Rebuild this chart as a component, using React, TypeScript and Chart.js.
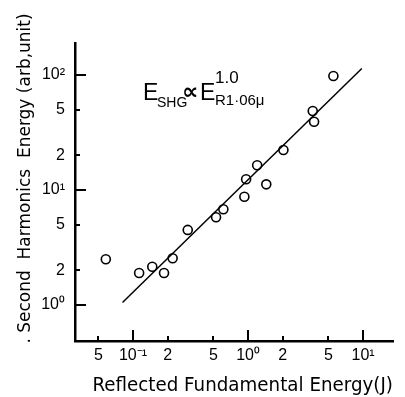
import React, { useEffect, useRef } from "react";
import { Chart, registerables } from "chart.js";

Chart.register(...registerables);

// Measured data (log-log)
const energyX = [0.058, 0.113, 0.147, 0.186, 0.221, 0.299, 0.527, 0.61, 0.929, 0.962, 1.2, 1.44, 2.03, 3.65, 3.75, 5.52];
const shgY = [2.5, 1.9, 2.15, 1.9, 2.55, 4.5, 5.8, 6.8, 8.75, 12.4, 16.4, 11.2, 22.3, 48.6, 39.3, 98];

// Fitted line E_SHG ∝ E^1.0
const fitX = [0.081, 9.75];
const fitY = [1.05, 114];

// Axis ticks
const xTickValues = [0.05, 0.1, 0.2, 0.5, 1, 2, 5, 10];
const xTickLabels = ["5", "10⁻¹", "2", "5", "10⁰", "2", "5", "10¹"];
const yTickValues = [1, 2, 5, 10, 20, 50, 100];
const yTickLabels = ["10⁰", "2", "5", "10¹", "2", "5", "10²"];

const xRange = [0.0313, 18.2];
const yRange = [0.486, 190];

const xTitle = "   Reflected Fundamental Energy(J)";
const yTitle = "     . Second  Harmonics  Energy (arb,unit)";

// Formula anchor in data coordinates
const formulaAnchor = [0.122, 60.6];

const isDecade = (v: number) => Math.abs(Math.log10(v) - Math.round(Math.log10(v))) < 1e-6;

const tickPlugin = {
  id: "innerTicks",
  afterDraw(chart: any) {
    const { ctx, chartArea, scales } = chart;
    const xs = scales.x;
    const ys = scales.y;
    ctx.save();
    ctx.strokeStyle = "#000";
    ctx.lineWidth = 2;
    ctx.beginPath();
    xTickValues.forEach((v) => {
      const px = Math.round(xs.getPixelForValue(v));
      const len = isDecade(v) ? 11 : 5;
      ctx.moveTo(px, chartArea.bottom);
      ctx.lineTo(px, chartArea.bottom - len);
    });
    yTickValues.forEach((v) => {
      const py = Math.round(ys.getPixelForValue(v));
      const len = isDecade(v) ? 11 : 5;
      ctx.moveTo(chartArea.left, py);
      ctx.lineTo(chartArea.left + len, py);
    });
    ctx.stroke();

    // Formula annotation
    const ax = xs.getPixelForValue(formulaAnchor[0]);
    const ay = ys.getPixelForValue(formulaAnchor[1]);
    ctx.fillStyle = "#000";
    ctx.textAlign = "left";
    ctx.textBaseline = "alphabetic";
    ctx.font = '23px "Liberation Sans", Arial, sans-serif';
    ctx.fillText("E", ax, ay);
    ctx.font = '14px "Liberation Sans", Arial, sans-serif';
    ctx.fillText("SHG", ax + 14, ay + 7);
    ctx.font = 'bold 23px "DejaVu Sans", sans-serif';
    ctx.fillText("∝", ax + 39, ay - 1);
    ctx.font = '23px "Liberation Sans", Arial, sans-serif';
    ctx.fillText("E", ax + 57, ay);
    ctx.font = '17px "Liberation Sans", Arial, sans-serif';
    ctx.fillText("1.0", ax + 72, ay - 17);
    ctx.font = '15px "Liberation Sans", Arial, sans-serif';
    ctx.fillText("R1·06μ", ax + 72, ay + 5);
    ctx.restore();
  },
};

export default function App() {
  const canvasRef = useRef<HTMLCanvasElement | null>(null);

  useEffect(() => {
    if (!canvasRef.current) return;
    const chart = new Chart(canvasRef.current, {
      type: "scatter",
      data: {
        datasets: [
          {
            label: "data",
            data: energyX.map((x, i) => ({ x, y: shgY[i] })),
            showLine: false,
            pointStyle: "circle",
            pointRadius: 4.5,
            pointBorderWidth: 1.6,
            pointBorderColor: "#000",
            pointBackgroundColor: "rgba(255,255,255,0)",
          },
          {
            label: "fit",
            data: fitX.map((x, i) => ({ x, y: fitY[i] })),
            showLine: true,
            borderColor: "#000",
            borderWidth: 1.5,
            pointRadius: 0,
          },
        ],
      },
      options: {
        responsive: false,
        animation: false,
        devicePixelRatio: 1,
        layout: { padding: { top: 43, right: 12, left: 0, bottom: 0 } },
        plugins: {
          legend: { display: false },
          tooltip: { enabled: false },
        },
        scales: {
          x: {
            type: "logarithmic",
            min: xRange[0],
            max: xRange[1],
            afterFit: (s: any) => {
              s.height = 56;
            },
            afterBuildTicks: (s: any) => {
              s.ticks = xTickValues.map((v) => ({ value: v }));
            },
            grid: { drawOnChartArea: false, drawTicks: false },
            border: { display: true, color: "#000", width: 2.5 },
            ticks: {
              autoSkip: false,
              maxRotation: 0,
              padding: 5,
              color: "#000",
              font: { family: '"Liberation Sans", Arial, sans-serif', size: 16 },
              callback: (_v: any, i: number) => xTickLabels[i],
            },
            title: {
              display: true,
              text: xTitle,
              color: "#000",
              font: { family: '"DejaVu Sans", sans-serif', size: 19 },
              padding: { top: 0, bottom: 0 },
            },
          },
          y: {
            type: "logarithmic",
            min: yRange[0],
            max: yRange[1],
            afterFit: (s: any) => {
              s.width = 75;
            },
            afterBuildTicks: (s: any) => {
              s.ticks = yTickValues.map((v) => ({ value: v }));
            },
            grid: { drawOnChartArea: false, drawTicks: false },
            border: { display: true, color: "#000", width: 2.5 },
            ticks: {
              autoSkip: false,
              padding: 10,
              color: "#000",
              font: { family: '"Liberation Sans", Arial, sans-serif', size: 16 },
              callback: (_v: any, i: number) => yTickLabels[i],
            },
            title: {
              display: true,
              text: yTitle,
              color: "#000",
              font: { family: '"DejaVu Sans", sans-serif', size: 17 },
              padding: { top: 15, bottom: 0 },
            },
          },
        },
      },
      plugins: [tickPlugin],
    });
    return () => chart.destroy();
  }, []);

  return (
    <div style={{ position: "absolute", left: 0, top: 0, width: 405, height: 397, background: "#fff" }}>
      <canvas ref={canvasRef} width={405} height={397} style={{ display: "block" }} />
    </div>
  );
}
